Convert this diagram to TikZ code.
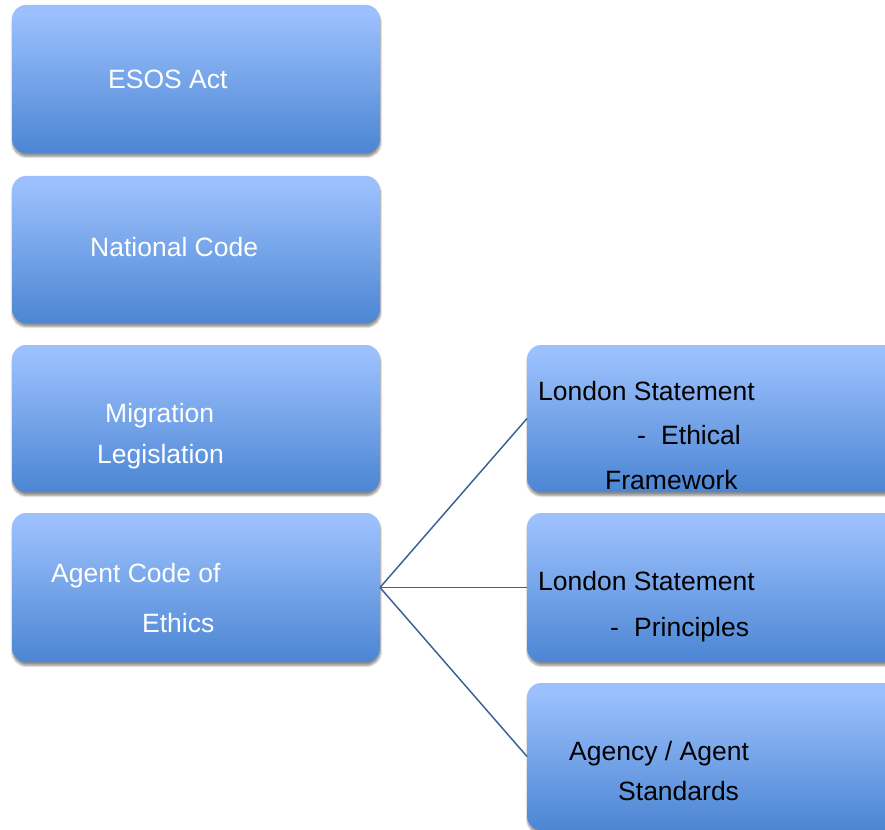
\documentclass[tikz,border=0pt]{standalone}
\usepackage{fontspec}
\setmainfont{Liberation Sans}
\usetikzlibrary{shadows.blur}
\definecolor{boxlight}{RGB}{155,192,253}
\definecolor{boxdark}{RGB}{64,125,205}
\definecolor{linkcol}{RGB}{61,99,150}
\pgfdeclareverticalshading{boxgrad}{100bp}{color(0bp)=(boxdark); color(18bp)=(boxdark); color(72bp)=(boxlight); color(100bp)=(boxlight)}
\tikzset{
  gbox/.style={rounded corners=14pt, shading=boxgrad, draw=none,
    blur shadow={shadow xshift=0.5pt, shadow yshift=-3.5pt, shadow blur steps=6, shadow opacity=45}},
  wtxt/.style={anchor=base west, inner sep=0pt, text=white, font=\fontsize{26.5pt}{30pt}\selectfont},
  btxt/.style={anchor=base west, inner sep=0pt, text=black, font=\fontsize{26.5pt}{30pt}\selectfont},
  link/.style={draw=linkcol, line width=1.5pt}
}
\begin{document}
\begin{tikzpicture}[x=1pt,y=-1pt]
\useasboundingbox (0,0) rectangle (885,829);
% left column
\path[gbox] (12,5) rectangle (380,153);
\coordinate (L1) at (196,79);
\path[gbox] (12,176) rectangle (380,323);
\coordinate (L2) at (196,250);
\path[gbox] (12,345) rectangle (380,492);
\coordinate (L3) at (196,418);
\path[gbox] (12,513) rectangle (380,662);
\coordinate (L4e) at (380,587.5);
% right column
\path[gbox] (527,345) rectangle (900,492);
\coordinate (R1w) at (527,418.5);
\path[gbox] (527,513) rectangle (900,662);
\coordinate (R2w) at (527,587.5);
\path[gbox] (527,683) rectangle (900,830);
\coordinate (R3w) at (527,756.5);
% connectors
\draw[link] (L4e) -- (R1w);
\draw[link] (L4e) -- (R2w);
\draw[link] (L4e) -- (R3w);
% texts
\node[wtxt] (t1) at (108,89) {ESOS Act};
\node[wtxt] (t2) at (90,256) {National Code};
\node[wtxt] (t3a) at (105,422) {Migration};
\node[wtxt] (t3b) at (97,463) {Legislation};
\node[wtxt] (t4a) at (51,582) {Agent Code of};
\node[wtxt] (t4b) at (142,632) {Ethics};
\node[btxt] (r1a) at (538,400) {London Statement};
\node[btxt] (r1d) at (637,444) {-};
\node[btxt] (r1b) at (661,444) {Ethical};
\node[btxt] (r1c) at (605,489) {Framework};
\node[btxt] (r2a) at (538,590) {London Statement};
\node[btxt] (r2d) at (610,636) {-};
\node[btxt] (r2b) at (634,636) {Principles};
\node[btxt] (r3a) at (569,760) {Agency / Agent};
\node[btxt] (r3b) at (618,800) {Standards};
\end{tikzpicture}
\end{document}
